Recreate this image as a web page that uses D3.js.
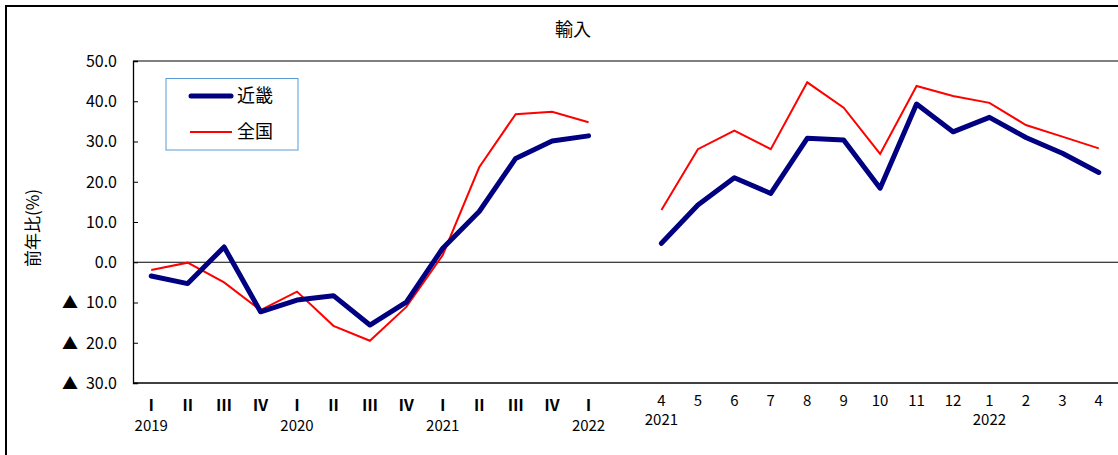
<!DOCTYPE html>
<html><head><meta charset="utf-8">
<script src="https://cdn.jsdelivr.net/npm/d3@7"></script>
<style>
html,body{margin:0;padding:0;background:#fff;}
svg{display:block;}
text{font-family:"Noto Sans CJK JP","Noto Sans",sans-serif;fill:#000;}
</style></head>
<body>
<svg id="chart" width="1118" height="455"></svg>
<script>
const title = "輸入";
const yTitle = "前年比(%)";
const seriesNames = ["近畿", "全国"];
// categories (quarterly 2019Q1–2022Q1, gap, monthly 2021/4–2022/4)
const categoryLabels = ["Ⅰ","Ⅱ","Ⅲ","Ⅳ","Ⅰ","Ⅱ","Ⅲ","Ⅳ","Ⅰ","Ⅱ","Ⅲ","Ⅳ","Ⅰ","",
  "4","5","6","7","8","9","10","11","12","1","2","3","4"];
const yearLabels = ["2019","","","","2020","","","","2021","","","","2022","",
  "2021","","","","","","","","","2022","","",""];
const kinki = [-3.4,-5.3,3.8,-12.3,-9.4,-8.3,-15.6,-9.9,3.5,12.6,25.8,30.1,31.4,null,
  4.7,14.2,21.0,17.1,30.8,30.4,18.4,39.3,32.4,36.0,31.0,27.1,22.3];
const zenkoku = [-1.9,-0.1,-5.0,-11.9,-7.3,-15.8,-19.5,-11.1,1.8,23.6,36.8,37.4,34.8,null,
  13.0,28.1,32.7,28.1,44.7,38.4,26.9,43.8,41.3,39.6,34.1,31.2,28.3];
const yTicks = [50,40,30,20,10,0,-10,-20,-30];

const svg = d3.select("#chart");
const L = 133, R = 1117, T = 61, B = 383;
const idx = d3.range(categoryLabels.length);
const x = d3.scaleBand().domain(idx).range([L, R]);
const cx = i => x(i) + x.bandwidth()/2;
const y = d3.scaleLinear().domain([-30, 50]).range([B, T]);

// outer frame
svg.append("line").attr("x1",5).attr("x2",1118).attr("y1",6).attr("y2",6).attr("stroke","#000").attr("stroke-width",2);
svg.append("line").attr("x1",6).attr("x2",6).attr("y1",5).attr("y2",455).attr("stroke","#000").attr("stroke-width",2);

// title
svg.append("text").attr("x",573).attr("y",30).attr("dy","0.36em").attr("text-anchor","middle").attr("font-size",18).text(title);

// plot top border
svg.append("line").attr("x1",L).attr("x2",1118).attr("y1",T).attr("y2",T).attr("stroke","#808080").attr("stroke-width",2);

// y axis
const yAxis = d3.axisLeft(y).tickValues(yTicks).tickSize(-5).tickFormat(d => "");
const ga = svg.append("g").attr("transform",`translate(${L},0)`).call(yAxis);
ga.select(".domain").attr("stroke","#000").attr("stroke-width",1.3);
ga.selectAll(".tick line").attr("stroke","#000");
yTicks.forEach(v => {
  svg.append("text").attr("x",117).attr("y",y(v)).attr("dy","0.36em").attr("text-anchor","end")
    .attr("font-size",16).attr("font-family","Liberation Sans, Arial, sans-serif")
    .text(d3.format(".1f")(Math.abs(v)));
  if (v < 0) {
    svg.append("text").attr("x",70).attr("y",y(v)).attr("dy","0.36em").attr("text-anchor","middle")
      .attr("font-size",16).text("▲");
  }
});

// zero line & bottom axis
svg.append("line").attr("x1",L).attr("x2",1118).attr("y1",y(0)).attr("y2",y(0)).attr("stroke","#000").attr("stroke-width",1.2);
svg.append("line").attr("x1",L).attr("x2",1118).attr("y1",B).attr("y2",B).attr("stroke","#000").attr("stroke-width",1.5);

// y title
svg.append("text").attr("transform",`translate(33,228) rotate(-90)`).attr("dy","0.36em").attr("text-anchor","middle")
  .attr("font-size",17).text(yTitle);

// x labels
idx.forEach(i => {
  const quarterly = i < 13;
  if (categoryLabels[i]) {
    svg.append("text").attr("x",cx(i)).attr("y", quarterly ? 405 : 401).attr("dy","0.36em")
      .attr("text-anchor","middle").attr("font-size", quarterly ? 16 : 15)
      .attr("font-family", quarterly ? "DejaVu Serif, Liberation Serif, serif" : "Noto Sans CJK JP, sans-serif")
      .attr("font-weight", quarterly ? "bold" : "normal")
      .text(categoryLabels[i]);
  }
  if (yearLabels[i]) {
    svg.append("text").attr("x",cx(i)).attr("y", quarterly ? 426 : 420).attr("dy","0.36em")
      .attr("text-anchor","middle").attr("font-size",15).text(yearLabels[i]);
  }
});

// lines
const line = d3.line().defined(d => d[1] != null).x(d => cx(d[0])).y(d => y(d[1]));
svg.append("path").datum(zenkoku.map((v,i)=>[i,v])).attr("d",line)
  .attr("fill","none").attr("stroke","#ff0000").attr("stroke-width",2);
svg.append("path").datum(kinki.map((v,i)=>[i,v])).attr("d",line)
  .attr("fill","none").attr("stroke","#000080").attr("stroke-width",5).attr("stroke-linejoin","round").attr("stroke-linecap","round");

// legend
const lg = svg.append("g");
lg.append("rect").attr("x",166).attr("y",78.5).attr("width",132).attr("height",71.5)
  .attr("fill","#fff").attr("stroke","#5b9bd5").attr("stroke-width",1);
lg.append("line").attr("x1",191).attr("x2",231).attr("y1",96).attr("y2",96).attr("stroke","#000080").attr("stroke-width",5).attr("stroke-linecap","round");
lg.append("line").attr("x1",190).attr("x2",232).attr("y1",132).attr("y2",132).attr("stroke","#ff0000").attr("stroke-width",2);
lg.append("text").attr("x",237).attr("y",96).attr("dy","0.36em").attr("font-size",18).text(seriesNames[0]);
lg.append("text").attr("x",237).attr("y",132).attr("dy","0.36em").attr("font-size",18).text(seriesNames[1]);
</script>
</body></html>
